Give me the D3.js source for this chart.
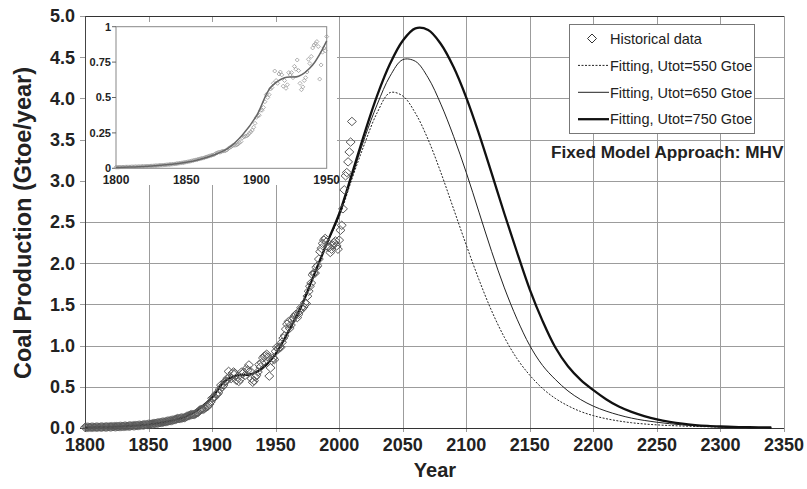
<!DOCTYPE html>
<html>
<head>
<meta charset="utf-8">
<script src="https://cdn.jsdelivr.net/npm/d3@7/dist/d3.min.js"></script>
<style>
  body { margin: 0; background: #fff; }
  text { font-family: Arial, "Liberation Sans", Helvetica, sans-serif; }
</style>
</head>
<body>
<svg id="chart" width="807" height="489"></svg>
<script>
// ---- data ---------------------------------------------------------------
// World coal production, Gtoe/year, one value per year starting in 1800
const histStartYear = 1800;
const histValues = [
  // 1800-1849
  0.008, 0.008, 0.008, 0.009, 0.009, 0.009, 0.009, 0.010, 0.010, 0.010,
  0.010, 0.011, 0.011, 0.011, 0.012, 0.012, 0.012, 0.013, 0.013, 0.014,
  0.014, 0.015, 0.015, 0.016, 0.016, 0.017, 0.017, 0.018, 0.019, 0.019,
  0.020, 0.021, 0.022, 0.022, 0.023, 0.024, 0.025, 0.026, 0.027, 0.028,
  0.029, 0.030, 0.031, 0.033, 0.034, 0.036, 0.037, 0.039, 0.040, 0.042,
  // 1850-1899
  0.044, 0.046, 0.048, 0.050, 0.053, 0.055, 0.058, 0.060, 0.062, 0.065,
  0.068, 0.070, 0.072, 0.075, 0.079, 0.082, 0.085, 0.089, 0.091, 0.094,
  0.098, 0.104, 0.108, 0.115, 0.113, 0.118, 0.121, 0.122, 0.124, 0.130,
  0.140, 0.146, 0.152, 0.160, 0.162, 0.163, 0.165, 0.172, 0.182, 0.189,
  0.215, 0.222, 0.226, 0.228, 0.236, 0.248, 0.258, 0.270, 0.290, 0.318,
  // 1900-1949
  0.360, 0.370, 0.375, 0.410, 0.410, 0.430, 0.470, 0.520, 0.500, 0.520,
  0.560, 0.570, 0.600, 0.687, 0.620, 0.600, 0.666, 0.680, 0.660, 0.580,
  0.620, 0.565, 0.590, 0.676, 0.660, 0.676, 0.640, 0.720, 0.700, 0.765,
  0.690, 0.600, 0.555, 0.575, 0.620, 0.640, 0.680, 0.770, 0.740, 0.790,
  0.850, 0.870, 0.880, 0.895, 0.860, 0.630, 0.730, 0.820, 0.850, 0.830,
  // 1950-2010
  0.930, 0.980, 0.960, 0.980, 0.980, 1.040, 1.090, 1.120, 1.200, 1.260,
  1.290, 1.210, 1.250, 1.310, 1.340, 1.360, 1.380, 1.340, 1.380, 1.420,
  1.460, 1.450, 1.470, 1.520, 1.510, 1.600, 1.660, 1.720, 1.760, 1.860,
  1.880, 1.880, 1.950, 1.970, 2.050, 2.140, 2.180, 2.240, 2.280, 2.300,
  2.260, 2.200, 2.190, 2.130, 2.170, 2.220, 2.250, 2.270, 2.210, 2.170,
  2.280, 2.400, 2.460, 2.660, 2.890, 3.060, 3.100, 3.230, 3.350, 3.470,
  3.720
];

// Fitted production curves, sampled every 10 years
const fitYears = [
  1800, 1810, 1820, 1830, 1840, 1850, 1860, 1870, 1880, 1890,
  1900, 1910, 1920, 1930, 1940, 1950, 1960, 1970, 1980, 1990,
  2000, 2010, 2020, 2030, 2040, 2050, 2060, 2070, 2080, 2090,
  2100, 2110, 2120, 2130, 2140, 2150, 2160, 2170, 2180, 2190,
  2200, 2210, 2220, 2230, 2240, 2250, 2260, 2270, 2280, 2290,
  2300, 2310, 2320, 2330, 2340
];
const fitU550 = [
  0.006, 0.009, 0.013, 0.019, 0.028, 0.042, 0.064, 0.096, 0.142, 0.235,
  0.370, 0.570, 0.640, 0.650, 0.730, 0.900, 1.170, 1.470, 1.850, 2.230,
  2.560, 3.020, 3.450, 3.830, 4.070, 4.030, 3.820, 3.500, 3.100, 2.660,
  2.220, 1.800, 1.420, 1.100, 0.840, 0.640, 0.480, 0.360, 0.270, 0.200,
  0.150, 0.113, 0.085, 0.064, 0.049, 0.038, 0.030, 0.024, 0.019, 0.015,
  0.012, 0.009, 0.007, 0.006, 0.005
];
const fitU650 = [
  0.006, 0.009, 0.013, 0.019, 0.028, 0.042, 0.064, 0.096, 0.142, 0.235,
  0.370, 0.570, 0.640, 0.650, 0.730, 0.900, 1.170, 1.470, 1.850, 2.230,
  2.580, 3.050, 3.520, 3.930, 4.270, 4.470, 4.450, 4.250, 3.930, 3.540,
  3.100, 2.620, 2.140, 1.700, 1.320, 1.000, 0.760, 0.590, 0.450, 0.345,
  0.265, 0.205, 0.158, 0.120, 0.092, 0.070, 0.052, 0.038, 0.027, 0.020,
  0.015, 0.011, 0.008, 0.006, 0.005
];
const fitU750 = [
  0.006, 0.009, 0.013, 0.019, 0.028, 0.042, 0.064, 0.096, 0.142, 0.235,
  0.370, 0.570, 0.640, 0.650, 0.730, 0.900, 1.170, 1.470, 1.850, 2.230,
  2.600, 3.080, 3.580, 4.040, 4.420, 4.700, 4.850, 4.830, 4.660, 4.380,
  4.010, 3.570, 3.090, 2.600, 2.130, 1.680, 1.300, 0.980, 0.750, 0.585,
  0.460, 0.350, 0.260, 0.195, 0.145, 0.105, 0.075, 0.052, 0.036, 0.025,
  0.018, 0.013, 0.010, 0.008, 0.006
];

const xTicks = [1800, 1850, 1900, 1950, 2000, 2050, 2100, 2150, 2200, 2250, 2300, 2350];
const yTicks = [0, 0.5, 1, 1.5, 2, 2.5, 3, 3.5, 4, 4.5, 5];
const insetXTicks = [1800, 1850, 1900, 1950];
const insetYTicks = [0, 0.25, 0.5, 0.75, 1];
const insetYLabels = ["0", "0.25", "0.5", "0.75", "1"];

const legendItems = [
  { label: "Historical data", kind: "diamond" },
  { label: "Fitting, Utot=550 Gtoe", kind: "u550" },
  { label: "Fitting, Utot=650 Gtoe", kind: "u650" },
  { label: "Fitting, Utot=750 Gtoe", kind: "u750" }
];

// ---- styles ---------------------------------------------------------------
const lineStyle = {
  u550: { stroke: "#222", width: 1, dash: "2,1.5" },
  u650: { stroke: "#222", width: 1, dash: null },
  u750: { stroke: "#111", width: 2.3, dash: null }
};
const fitSeries = [
  { key: "u550", values: fitU550 },
  { key: "u650", values: fitU650 },
  { key: "u750", values: fitU750 }
];

const hist = histValues.map((v, i) => ({ year: histStartYear + i, value: v }));

// ---- layout ---------------------------------------------------------------
const svg = d3.select("#chart");
const L = 85, R = 784, T = 16, B = 428;
const x = d3.scaleLinear().domain([1800, 2350]).range([L, R]);
const y = d3.scaleLinear().domain([0, 5]).range([B, T]);

svg.append("rect").attr("width", 807).attr("height", 489).attr("fill", "#fff");

// grid
const grid = svg.append("g").attr("shape-rendering", "crispEdges");
grid.selectAll("line.v").data(xTicks.slice(1)).join("line")
  .attr("x1", d => Math.round(x(d)) + 0.5).attr("x2", d => Math.round(x(d)) + 0.5)
  .attr("y1", T).attr("y2", B + 4)
  .attr("stroke", "#9c9c9c").attr("stroke-width", 1);
grid.selectAll("line.h").data(yTicks.slice(1)).join("line")
  .attr("x1", L - 5).attr("x2", R)
  .attr("y1", d => Math.round(y(d)) + 0.5).attr("y2", d => Math.round(y(d)) + 0.5)
  .attr("stroke", "#9c9c9c").attr("stroke-width", 1);
// frame: top border, left and bottom axes
grid.append("line").attr("x1", L).attr("x2", R).attr("y1", T + 0.5).attr("y2", T + 0.5)
  .attr("stroke", "#333");
grid.append("line").attr("x1", L + 0.5).attr("x2", L + 0.5).attr("y1", T).attr("y2", B + 4)
  .attr("stroke", "#444");
grid.append("line").attr("x1", L - 5).attr("x2", R).attr("y1", B + 0.5).attr("y2", B + 0.5)
  .attr("stroke", "#333");

// axis labels
svg.append("g").selectAll("text").data(yTicks).join("text")
  .attr("x", 75).attr("y", d => y(d)).attr("dy", "0.36em")
  .attr("text-anchor", "end").attr("font-size", 18).attr("font-weight", "bold")
  .attr("fill", "#222")
  .text(d => d3.format(".1f")(d));
svg.append("g").selectAll("text").data(xTicks).join("text")
  .attr("x", d => x(d)).attr("y", 451)
  .attr("text-anchor", "middle").attr("font-size", 18).attr("font-weight", "bold")
  .attr("fill", "#222")
  .text(d => d);
svg.append("text").attr("x", 435).attr("y", 477)
  .attr("text-anchor", "middle").attr("font-size", 20).attr("font-weight", "bold")
  .attr("fill", "#222").text("Year");
svg.append("text").attr("transform", "translate(31,223) rotate(-90)")
  .attr("text-anchor", "middle").attr("font-size", 23.5).attr("font-weight", "bold")
  .attr("fill", "#222").text("Coal Production (Gtoe/year)");

// fitted curves
const fitLine = d3.line().x(d => x(d.year)).y(d => y(d.value))
  .curve(d3.curveCatmullRom.alpha(0.5));
fitSeries.forEach(s => {
  const pts = fitYears.map((yr, i) => ({ year: yr, value: s.values[i] }));
  const st = lineStyle[s.key];
  svg.append("path").datum(pts)
    .attr("d", fitLine).attr("fill", "none")
    .attr("stroke", st.stroke).attr("stroke-width", st.width)
    .attr("stroke-dasharray", st.dash);
});

// historical data markers
const diamond = (rx, ry) => `M0,${-ry}L${rx},0L0,${ry}L${-rx},0Z`;
svg.append("g").selectAll("path").data(hist).join("path")
  .attr("transform", d => `translate(${x(d.year)},${y(d.value)})`)
  .attr("d", diamond(4.5, 4.2))
  .attr("fill", "none").attr("stroke", "#5a5a5a").attr("stroke-width", 1);

// ---- legend ---------------------------------------------------------------
const lg = svg.append("g");
lg.append("rect").attr("x", 569.5).attr("y", 24.5).attr("width", 185).attr("height", 109)
  .attr("fill", "#fff").attr("stroke", "#777");
const rowY = i => 38.5 + i * 26.9;
legendItems.forEach((it, i) => {
  const ry = rowY(i);
  if (it.kind === "diamond") {
    lg.append("path").attr("transform", `translate(592,${ry})`)
      .attr("d", diamond(4.5, 4.5)).attr("fill", "none").attr("stroke", "#333");
  } else {
    const st = lineStyle[it.kind];
    lg.append("line").attr("x1", 578).attr("x2", 609).attr("y1", ry).attr("y2", ry)
      .attr("stroke", st.stroke).attr("stroke-width", st.width)
      .attr("stroke-dasharray", st.dash);
  }
  lg.append("text").attr("x", 610).attr("y", ry).attr("dy", "0.36em")
    .attr("font-size", 14.5).attr("fill", "#222").text(it.label);
});
svg.append("text").attr("x", 551).attr("y", 158)
  .attr("font-size", 17.2).attr("font-weight", "bold").attr("fill", "#222")
  .text("Fixed Model Approach: MHV");

// ---- inset: 1800-1950 detail ---------------------------------------------
const inset = svg.append("g");
inset.append("rect").attr("x", 86).attr("y", 22).attr("width", 251).attr("height", 163)
  .attr("fill", "#fff");
const ix = d3.scaleLinear().domain([1800, 1950]).range([116, 326.7]);
const iy = d3.scaleLinear().domain([0, 1]).range([168.3, 26.7]);
inset.append("rect").attr("x", 116).attr("y", 26.7).attr("width", 210.7).attr("height", 141.6)
  .attr("fill", "none").attr("stroke", "#888");
inset.selectAll("line.yt").data(insetYTicks).join("line")
  .attr("x1", 112).attr("x2", 116).attr("y1", d => iy(d)).attr("y2", d => iy(d))
  .attr("stroke", "#666");
inset.selectAll("text.yl").data(insetYTicks).join("text")
  .attr("x", 111).attr("y", d => iy(d)).attr("dy", "0.36em")
  .attr("text-anchor", "end").attr("font-size", 11).attr("font-weight", "bold")
  .attr("fill", "#222")
  .text((d, i) => insetYLabels[i]);
inset.selectAll("text.xl").data(insetXTicks).join("text")
  .attr("x", d => ix(d)).attr("y", 184)
  .attr("text-anchor", "middle").attr("font-size", 12).attr("font-weight", "bold")
  .attr("fill", "#222").text(d => d);
const histEarly = hist.filter(d => d.year <= 1950);
inset.append("g").selectAll("path").data(histEarly).join("path")
  .attr("transform", d => `translate(${ix(d.year)},${iy(d.value)})`)
  .attr("d", diamond(2, 2))
  .attr("fill", "none").attr("stroke", "#9a9a9a").attr("stroke-width", 0.8);
const insetLine = d3.line().x(d => ix(d.year)).y(d => iy(d.value))
  .curve(d3.curveCatmullRom.alpha(0.5));
const insetFit = fitYears.map((yr, i) => ({ year: yr, value: fitU650[i] }))
  .filter(d => d.year <= 1950);
inset.append("path").datum(insetFit).attr("d", insetLine)
  .attr("fill", "none").attr("stroke", "#666").attr("stroke-width", 1.5);
</script>
</body>
</html>
